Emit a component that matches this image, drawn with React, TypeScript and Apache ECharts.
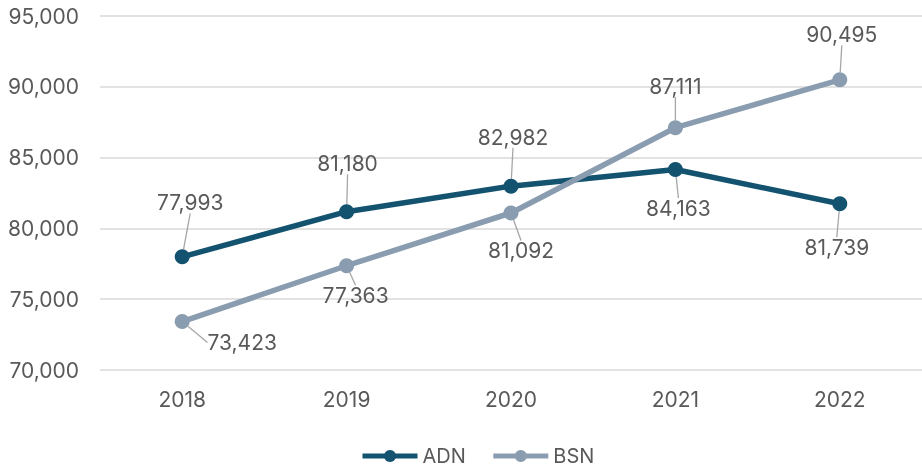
import React, { useEffect, useRef } from "react";
import * as echarts from "echarts";

const years = ["2018", "2019", "2020", "2021", "2022"];
const adn = [77993, 81180, 82982, 84163, 81739];
const bsn = [73423, 77363, 81092, 87111, 90495];
const seriesNames = ["ADN", "BSN"];

// label offsets (pixels) from each point
const adnOffsets: [number, number][] = [[8, -54], [1, -48], [2, -49], [3, 39], [-3, 44]];
const bsnOffsets: [number, number][] = [[60, 21], [9, 30], [10, 38], [0, -41], [2, -45]];

const FONT = "Inter";
const TEXT = "#595959";

export default function App() {
  const ref = useRef<HTMLDivElement>(null);
  useEffect(() => {
    if (!ref.current) return;
    const chart = echarts.init(ref.current, undefined, { renderer: "svg" });
    const fmt = (v: number) => v.toLocaleString("en-US");
    const mkLayout = (offs: [number, number][]) => (p: any) => {
      const o = offs[p.dataIndex];
      return {
        x: p.rect.x + p.rect.width / 2 + o[0],
        y: p.rect.y + p.rect.height / 2 + o[1],
        align: "center",
        verticalAlign: "middle",
      };
    };
    const mkSeries = (name: string, data: number[], color: string, offs: [number, number][]) => ({
      name,
      type: "line",
      data,
      symbol: "circle",
      symbolSize: 15,
      lineStyle: { color, width: 5.5 },
      itemStyle: { color },
      label: {
        show: true,
        formatter: (p: any) => fmt(p.value),
        color: TEXT,
        fontSize: 21,
        fontFamily: FONT,
      },
      labelLine: { show: true, lineStyle: { color: "#a6a6a6", width: 1.3 } },
      labelLayout: mkLayout(offs),
      emphasis: { disabled: true },
    });
    chart.setOption({
      animation: false,
      textStyle: { fontFamily: FONT },
      grid: { left: 100, right: 0, top: 16, bottom: 99 },
      legend: {
        left: 355,
        top: 441,
        itemWidth: 55,
        itemHeight: 15,
        itemGap: 25,
        lineStyle: { width: 5 },
        textStyle: { color: TEXT, fontSize: 20, fontFamily: FONT },
        data: seriesNames,
      },
      xAxis: {
        type: "category",
        data: years,
        boundaryGap: true,
        axisLine: { show: false },
        axisTick: { show: false },
        axisLabel: { color: TEXT, fontSize: 21, fontFamily: FONT, margin: 19 },
      },
      yAxis: {
        type: "value",
        min: 70000,
        max: 95000,
        interval: 5000,
        axisLine: { show: false },
        axisTick: { show: false },
        axisLabel: { color: TEXT, fontSize: 21, fontFamily: FONT, margin: 21, formatter: (v: number) => fmt(v) },
        splitLine: { lineStyle: { color: "#d9d9d9", width: 1.5 } },
      },
      series: [
        mkSeries(seriesNames[0], adn, "#14536f", adnOffsets),
        mkSeries(seriesNames[1], bsn, "#8a9db0", bsnOffsets),
      ],
    });
    return () => chart.dispose();
  }, []);
  return <div ref={ref} style={{ position: "fixed", left: 0, top: 0, width: 922, height: 469 }} />;
}
